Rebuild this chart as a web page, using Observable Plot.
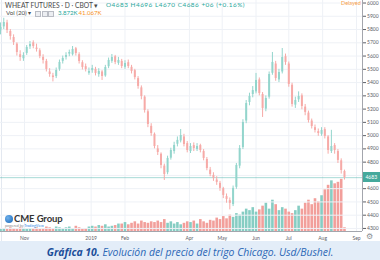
<!DOCTYPE html>
<html><head><meta charset="utf-8">
<script src="https://cdn.jsdelivr.net/npm/d3@7"></script>
<script src="https://cdn.jsdelivr.net/npm/@observablehq/plot@0.6"></script>
<style>
body{margin:0;background:#fff;}
#wrap{position:relative;width:380px;height:260px;overflow:hidden;background:#fff;font-family:Lato,"Open Sans",sans-serif;}
.abs{position:absolute;white-space:nowrap;line-height:1;}
</style></head><body>
<div id="wrap">
  <div class="abs" style="left:1px;top:0;width:1px;height:241px;background:#e3e8f0"></div>
  <div id="vol" class="abs" style="left:0;top:0"></div>
  <div id="price" class="abs" style="left:0;top:0"></div>
  <div id="hdr1" class="abs" style="left:5px;top:1.8px;font-size:6.7px;color:#4a4a4a;">WHEAT FUTURES · D · CBOT ▾</div>
  <div id="hdr2" class="abs" style="left:106px;top:2px;font-size:6.4px;letter-spacing:0.5px;color:#26a69a;">O4683 H4696 L4670 C4686 +06 (+0.16%)</div>
  <div class="abs" style="left:6px;top:10.3px;font-size:6.2px;color:#4a4a4a;">Vol (20) ▾</div>
  <div class="abs" style="left:35px;top:10.5px;width:4px;height:4px;border:0.7px solid #b9bcc4;background:#eceef2"></div>
  <div class="abs" style="left:41.5px;top:10.5px;width:4px;height:4px;border:0.7px solid #b9bcc4;background:#eceef2"></div>
  <div class="abs" style="left:48px;top:10.5px;width:4px;height:4px;border:0.7px solid #b9bcc4;background:#eceef2"></div>
  <div class="abs" style="left:58px;top:10.3px;font-size:6.1px;color:#26a69a;">3.872K</div>
  <div class="abs" style="left:78.5px;top:10.3px;font-size:6.1px;color:#f7931e;">41.067K</div>
  <div class="abs" style="left:341px;top:0.5px;font-size:5.5px;color:#f7a04a;">Delayed</div>
  <div class="abs" style="left:5px;top:215px;width:8px;height:8px;border-radius:50%;background:radial-gradient(circle at 35% 35%,#6fb0ea,#1565b8)"></div>
  <div class="abs" style="left:14px;top:213.5px;font-size:9.5px;font-weight:700;color:#333;letter-spacing:-0.1px;">CME Group</div>
  <div class="abs" style="left:5px;top:224px;font-size:3.6px;color:#8a8a8a;">powered by <span style="color:#2a8ae6">TradingView</span></div>
  <div class="abs" style="left:366px;top:233px;font-size:8px;color:#8a8d94;font-family:'DejaVu Sans';">⚙</div>
  <div id="lbl" class="abs" style="left:362.5px;width:17.5px;height:10px;background:#45a99c;color:#fff;font-size:5px;line-height:10px;text-align:center;">4683</div>
  <div class="abs" style="left:0;top:241px;width:380px;height:19px;background:#e3edf8;text-align:center;font-family:'Open Sans',sans-serif;font-style:italic;font-size:10.4px;line-height:18px;color:#2b67b6;padding-top:2px;"><b style="color:#1b4e9a">Gráfica 10.</b> Evolución del precio del trigo Chicago. Usd/Bushel.</div>
</div>
<script>
const dates = [
"2018-10-10","2018-10-13","2018-10-16","2018-10-19","2018-10-22","2018-10-25","2018-10-28","2018-10-31","2018-11-03","2018-11-06",
"2018-11-09","2018-11-12","2018-11-15","2018-11-18","2018-11-21","2018-11-24","2018-11-27","2018-11-30","2018-12-03","2018-12-06",
"2018-12-09","2018-12-12","2018-12-15","2018-12-18","2018-12-21","2018-12-24","2018-12-27","2018-12-30","2019-01-02","2019-01-05",
"2019-01-08","2019-01-11","2019-01-14","2019-01-17","2019-01-20","2019-01-23","2019-01-26","2019-01-29","2019-02-01","2019-02-04",
"2019-02-07","2019-02-10","2019-02-13","2019-02-16","2019-02-19","2019-02-22","2019-02-25","2019-02-28","2019-03-03","2019-03-06",
"2019-03-09","2019-03-12","2019-03-15","2019-03-18","2019-03-21","2019-03-24","2019-03-27","2019-03-30","2019-04-02","2019-04-05",
"2019-04-08","2019-04-11","2019-04-14","2019-04-17","2019-04-20","2019-04-23","2019-04-26","2019-04-29","2019-05-02","2019-05-05",
"2019-05-08","2019-05-11","2019-05-14","2019-05-17","2019-05-20","2019-05-23","2019-05-26","2019-05-29","2019-06-01","2019-06-04",
"2019-06-07","2019-06-10","2019-06-13","2019-06-16","2019-06-19","2019-06-22","2019-06-25","2019-06-28","2019-07-01","2019-07-04",
"2019-07-07","2019-07-10","2019-07-13","2019-07-16","2019-07-19","2019-07-22","2019-07-25","2019-07-28","2019-07-31","2019-08-03",
"2019-08-06","2019-08-09","2019-08-12","2019-08-15","2019-08-18","2019-08-21"];
const open = [
5790,5820,5850,5785,5740,5690,5610,5580,5620,5670,
5700,5660,5640,5590,5560,5480,5450,5445,5500,5560,
5590,5615,5610,5655,5610,5550,5520,5470,5490,5500,
5460,5480,5450,5520,5560,5595,5545,5560,5515,5550,
5515,5490,5430,5360,5290,5180,5070,5010,4900,4860,
4770,4720,4830,4880,4935,4960,4990,4940,4880,4925,
4895,4925,4880,4820,4740,4700,4665,4640,4600,4540,
4510,4480,4610,4770,4910,5110,5250,5310,5330,5420,
5310,5200,5290,5470,5540,5420,5480,5595,5540,5380,
5230,5270,5300,5215,5170,5110,5060,5030,5010,5045,
4990,4880,4925,4880,4810,4730];
const high = [
5850,5885,5870,5800,5760,5700,5640,5625,5680,5710,
5715,5690,5655,5610,5575,5505,5470,5510,5570,5600,
5625,5645,5672,5665,5625,5565,5540,5510,5530,5515,
5505,5490,5530,5585,5612,5605,5590,5575,5565,5570,
5530,5500,5445,5375,5300,5195,5090,5020,4925,4870,
4785,4845,4905,4950,4990,5046,5010,4955,4940,4945,
4940,4935,4895,4835,4760,4720,4690,4655,4610,4560,
4530,4620,4790,4925,5120,5265,5320,5370,5469,5435,
5325,5300,5480,5627,5560,5500,5657,5615,5555,5395,
5290,5330,5315,5235,5185,5125,5080,5050,5060,5060,
5000,5040,4940,4895,4825,4740];
const low = [
5760,5800,5770,5720,5680,5600,5560,5560,5605,5650,
5655,5630,5580,5540,5480,5440,5405,5430,5485,5540,
5570,5595,5600,5600,5540,5495,5480,5455,5470,5450,
5440,5416,5440,5505,5545,5535,5530,5505,5500,5505,
5465,5420,5350,5270,5170,5060,4995,4900,4850,4750,
4662,4705,4815,4860,4915,4945,4915,4870,4865,4880,
4880,4870,4810,4735,4690,4655,4625,4580,4525,4490,
4440,4465,4595,4750,4895,5090,5225,5285,5315,5300,
5137,5180,5275,5455,5410,5400,5465,5530,5365,5215,
5205,5250,5195,5150,5095,5050,5020,4995,4995,4975,
4860,4865,4860,4790,4710,4665];
const close = [
5815,5853,5793,5748,5702,5627,5589,5604,5665,5687,
5672,5650,5597,5567,5499,5461,5438,5491,5552,5582,
5604,5627,5650,5619,5559,5514,5499,5484,5506,5469,
5484,5446,5514,5567,5589,5552,5567,5521,5544,5521,
5484,5438,5371,5295,5190,5084,5016,4918,4873,4775,
4707,4828,4888,4926,4964,5001,4933,4888,4918,4903,
4918,4888,4828,4752,4707,4677,4647,4602,4549,4519,
4489,4602,4775,4903,5099,5242,5295,5340,5416,5318,
5205,5280,5461,5552,5431,5476,5589,5552,5386,5235,
5265,5295,5220,5175,5114,5069,5039,5016,5039,4994,
4888,4918,4888,4813,4737,4683];
const volumeK = [
3,4,3,5,4,3,5,4,3,4,
4,5,3,4,6,5,4,6,5,4,
5,6,4,7,5,3,4,6,
7,6,8,7,9,6,7,8,10,
10,12,9,11,13,10,14,12,11,13,12,
14,12,16,11,13,10,12,9,11,13,
12,14,10,16,13,11,15,14,
18,16,20,17,22,19,24,
22,26,30,28,32,26,29,
34,38,30,42,36,28,32,
30,26,24,28,34,30,38,
42,36,44,40,48,
56,62,68,64,66,70,5];
const yTicks = [4300,4400,4500,4600,4700,4800,4900,5000,5100,5200,5300,5400,5500,5600,5700,5800,5900,6000];
const xTickDates = ["2018-11-01","2019-01-01","2019-02-01","2019-04-01","2019-05-01","2019-06-01","2019-07-01","2019-08-01","2019-09-01"];
const xTickLabels = ["Nov","2019","Feb","Apr","May","Jun","Jul","Aug","Sep"];

const rows = dates.map((d, i) => ({date: new Date(d), o: open[i], h: high[i], l: low[i], c: close[i], v: volumeK[i], up: close[i] >= open[i]}));
const ticks = xTickDates.map(d => new Date(d));
const labelMap = new Map(ticks.map((d, i) => [+d, xTickLabels[i]]));
const lastClose = close[close.length - 1];
// the last-price label hides the tick label it covers, as in the reference
const axisTicks = yTicks.filter(t => Math.abs(t - lastClose) > 50);

const W = 380, H = 242;
const xDomain = [new Date("2018-10-10"), new Date("2019-09-06T12:00:00Z")];
const yDomain = [4277, 6019];
const UP = "#93d5cc", DOWN = "#f6aaa7";
const UPV = "#86cdc3", DOWNV = "#f29f9b";
const common = {width: W, height: H, marginLeft: 0, marginRight: 18, marginTop: 0, marginBottom: 11};

const volPlot = Plot.plot({
  ...common,
  x: {type: "utc", domain: xDomain, axis: null},
  y: {domain: [0, 310], axis: null},
  style: {background: "transparent"},
  marks: [
    Plot.ruleX(ticks, {stroke: "#eef1f6"}),
    Plot.ruleX(rows, {x: "date", y1: 0, y2: "v", stroke: d => d.up ? UPV : DOWNV, strokeWidth: 2.6})
  ]
});
document.getElementById("vol").append(volPlot);

const pricePlot = Plot.plot({
  ...common,
  x: {type: "utc", domain: xDomain, ticks: ticks, tickFormat: d => labelMap.get(+d), tickSize: 0, tickPadding: 4.5, label: null},
  y: {domain: yDomain, axis: "right", ticks: axisTicks, tickFormat: d3.format("d"), tickSize: 3, tickPadding: 1.5, label: null},
  style: {background: "transparent", fontSize: "5px", color: "#5d6068", fontFamily: "Lato, 'Open Sans', sans-serif"},
  marks: [
    Plot.ruleY(yTicks, {stroke: "#eef1f6"}),
    Plot.ruleY([lastClose], {stroke: "#26a69a", strokeOpacity: 0.4}),
    Plot.ruleX(rows, {x: "date", y1: "l", y2: "h", stroke: d => d.up ? UP : DOWN, strokeWidth: 1}),
    Plot.ruleX(rows, {x: "date", y1: "o", y2: "c", stroke: d => d.up ? UP : DOWN, strokeWidth: 2}),
    Plot.ruleX([xDomain[1]], {stroke: "#a3a6ad"}),
    Plot.ruleY([yDomain[0]], {stroke: "#a3a6ad"})
  ]
});
document.getElementById("price").append(pricePlot);

const ly = pricePlot.scale("y").apply(lastClose);
const lbl = document.getElementById("lbl");
lbl.style.top = (ly - 5) + "px";
lbl.textContent = String(lastClose);
</script>
</body></html>
